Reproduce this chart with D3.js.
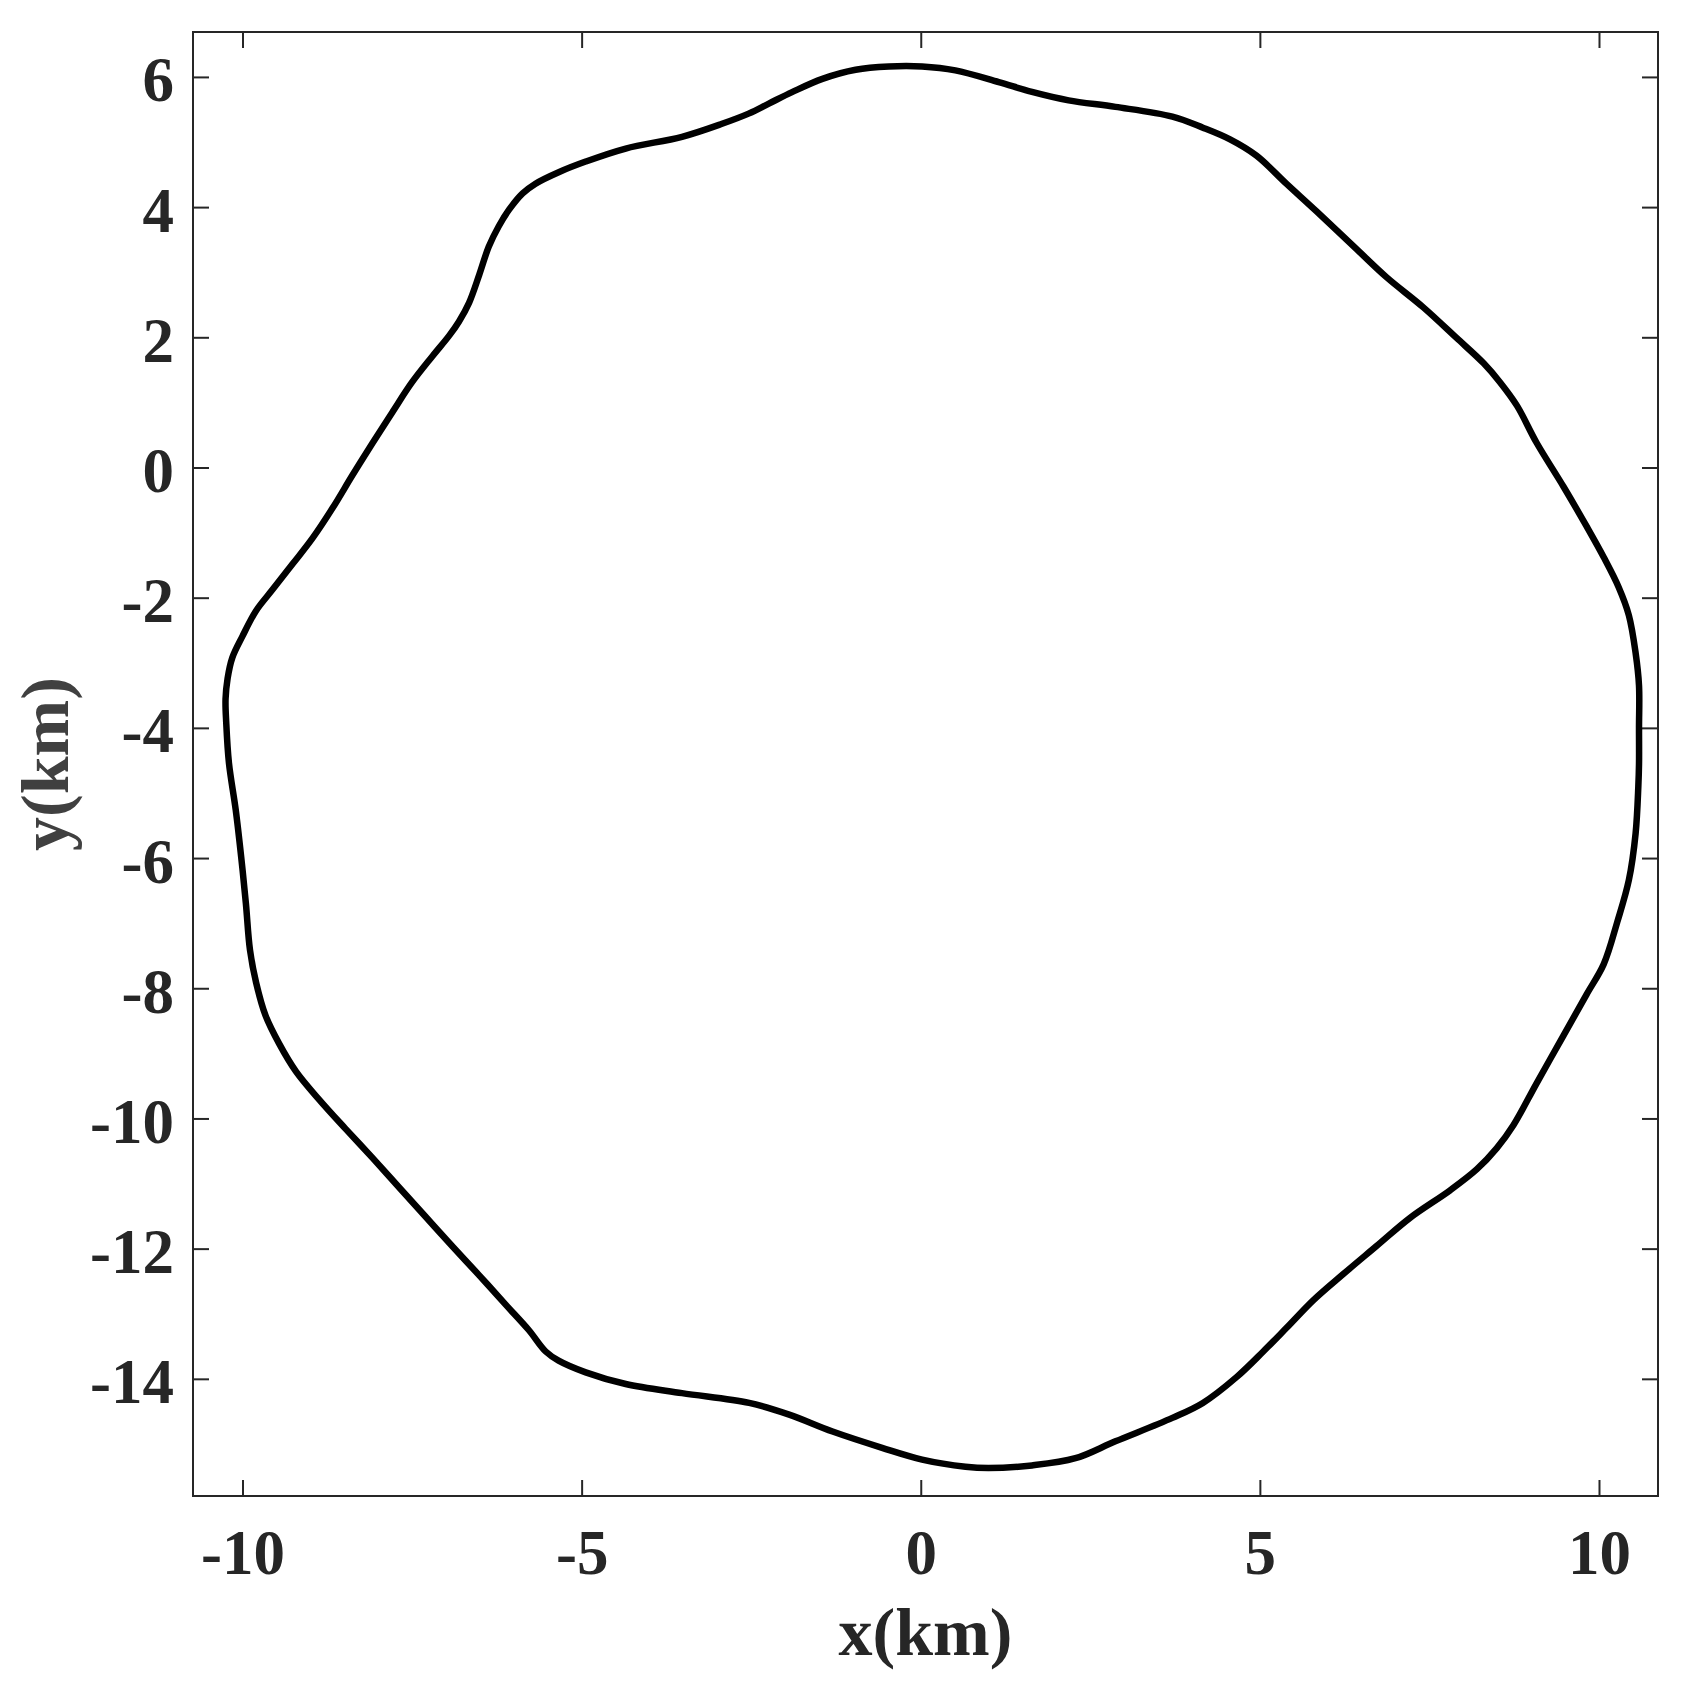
<!DOCTYPE html>
<html>
<head>
<meta charset="utf-8">
<script src="https://cdn.jsdelivr.net/npm/d3@7"></script>
<style>
  html, body { margin: 0; padding: 0; background: #fff; }
  text { font-family: "Liberation Serif", "Times New Roman", serif; font-weight: bold; }
</style>
</head>
<body>
<div id="my_dataviz"></div>
<script>
// boundary outline (km), clockwise from the top
const xKm = [0.02, 0.51, 1.15, 1.64, 2.18, 2.87, 3.71,
  4.16, 4.56, 4.95, 5.39, 5.84, 6.43, 6.87, 7.41, 7.90, 8.30, 8.54, 8.79, 9.08, 9.48, 9.82, 10.07, 10.29, 10.44, 10.54, 10.59, 10.59, 10.59,
  10.58, 10.54, 10.44, 10.27, 10.07, 9.82, 9.48, 9.08, 8.74, 8.49, 8.20, 7.81, 7.21, 6.72, 6.23, 5.79, 5.39, 5.05, 4.66, 4.16, 3.71,
  2.87, 2.28, 1.64, 1.00, 0.66, 0.02, -0.57, -1.30, -1.94, -2.53, -3.52,
  -4.35, -4.94, -5.34, -5.53, -5.78, -6.12, -6.51, -6.91, -7.30, -7.69, -8.08, -8.48, -8.87, -9.21, -9.46, -9.66, -9.80, -9.89, -9.95, -10.02, -10.10, -10.20,
  -10.24, -10.25, -10.22, -10.15, -10.00, -9.80, -9.56, -9.26, -8.97, -8.67, -8.38, -8.08, -7.79, -7.50, -7.20, -6.95, -6.81, -6.66, -6.51, -6.37, -6.22, -6.07, -5.87, -5.68, -5.33, -4.94, -4.35, -3.52,
  -2.93, -2.53, -2.24, -1.89, -1.45, -0.96, -0.47];
const yKm = [6.16, 6.10, 5.92, 5.77, 5.64, 5.54, 5.39,
  5.22, 5.04, 4.79, 4.36, 3.93, 3.35, 2.92, 2.46, 1.99, 1.60, 1.31, 0.95, 0.38, -0.30, -0.91, -1.38, -1.84, -2.27, -2.85, -3.35, -4.00, -4.55,
  -4.90, -5.62, -6.34, -6.98, -7.63, -8.09, -8.72, -9.46, -10.10, -10.46, -10.78, -11.10, -11.53, -11.96, -12.39, -12.79, -13.22, -13.58, -13.97, -14.37, -14.60,
  -14.96, -15.22, -15.33, -15.37, -15.35, -15.24, -15.06, -14.81, -14.55, -14.37, -14.22,
  -14.08, -13.90, -13.72, -13.58, -13.25, -12.86, -12.41, -11.96, -11.51, -11.06, -10.61, -10.16, -9.71, -9.28, -8.85, -8.42, -7.91, -7.41, -6.70, -5.98, -5.26, -4.54,
  -3.92, -3.56, -3.24, -2.92, -2.59, -2.20, -1.88, -1.48, -1.09, -0.62, -0.12, 0.38, 0.85, 1.31, 1.71, 2.03, 2.24, 2.53, 2.96, 3.39, 3.71, 3.96, 4.21, 4.36, 4.54, 4.70, 4.90, 5.08,
  5.28, 5.44, 5.59, 5.77, 5.97, 6.11, 6.16];

const xTicks = [-10, -5, 0, 5, 10];
const yTicks = [6, 4, 2, 0, -2, -4, -6, -8, -10, -12, -14];
const xDomain = [-10.73, 10.87];
const yDomain = [-15.80, 6.69];

// set the dimensions and margins of the graph
const margin = { top: 32, right: 29, bottom: 197, left: 193 },
    width = 1687 - margin.left - margin.right,
    height = 1693 - margin.top - margin.bottom;

const svg = d3.select("#my_dataviz")
    .append("svg")
    .attr("width", 1687)
    .attr("height", 1693)
    .append("g")
    .attr("transform", `translate(${margin.left}, ${margin.top})`);

const x = d3.scaleLinear().domain(xDomain).range([0, width]);
const y = d3.scaleLinear().domain(yDomain).range([height, 0]);

const axisColor = "#262626";
const plainNum = d => String(d);   // keep the short hyphen like the original

// bottom axis with labels, ticks pointing inward
const gx = svg.append("g")
    .attr("transform", `translate(0, ${height})`)
    .call(d3.axisBottom(x).tickValues(xTicks).tickSize(-16).tickPadding(33).tickFormat(plainNum));
gx.select(".domain").remove();
gx.selectAll("line").attr("stroke", axisColor).attr("stroke-width", 2);
gx.selectAll("text").attr("fill", axisColor).style("font-size", "63px");

// left axis
const gy = svg.append("g")
    .call(d3.axisLeft(y).tickValues(yTicks).tickSize(-16).tickPadding(19).tickFormat(plainNum));
gy.select(".domain").remove();
gy.selectAll("line").attr("stroke", axisColor).attr("stroke-width", 2);
gy.selectAll("text").attr("fill", axisColor).attr("dy", "0.38em").style("font-size", "63px");

// mirrored ticks on top and right
const gt = svg.append("g")
    .call(d3.axisTop(x).tickValues(xTicks).tickSize(-16).tickFormat(""));
gt.select(".domain").remove();
gt.selectAll("line").attr("stroke", axisColor).attr("stroke-width", 2);

const gr = svg.append("g")
    .attr("transform", `translate(${width}, 0)`)
    .call(d3.axisRight(y).tickValues(yTicks).tickSize(-16).tickFormat(""));
gr.select(".domain").remove();
gr.selectAll("line").attr("stroke", axisColor).attr("stroke-width", 2);

// box
svg.append("rect")
    .attr("x", 0).attr("y", 0)
    .attr("width", width).attr("height", height)
    .attr("fill", "none")
    .attr("stroke", axisColor)
    .attr("stroke-width", 2);

// the outline
const pts = xKm.map((d, i) => [d, yKm[i]]);
svg.append("path")
    .datum(pts)
    .attr("fill", "none")
    .attr("stroke", "#000")
    .attr("stroke-width", 6.5)
    .attr("stroke-linejoin", "round")
    .attr("d", d3.line()
        .x(d => x(d[0]))
        .y(d => y(d[1]))
        .curve(d3.curveCatmullRomClosed.alpha(0.5)));

// axis labels
svg.append("text")
    .attr("x", width / 2)
    .attr("y", height + 159)
    .attr("text-anchor", "middle")
    .attr("fill", axisColor)
    .style("font-size", "68px")
    .text("x(km)");

svg.append("text")
    .attr("transform", `translate(${68 - margin.left}, ${height / 2}) rotate(-90)`)
    .attr("text-anchor", "middle")
    .attr("fill", "#404040")
    .style("font-size", "68px")
    .text("y(km)");
</script>
</body>
</html>
